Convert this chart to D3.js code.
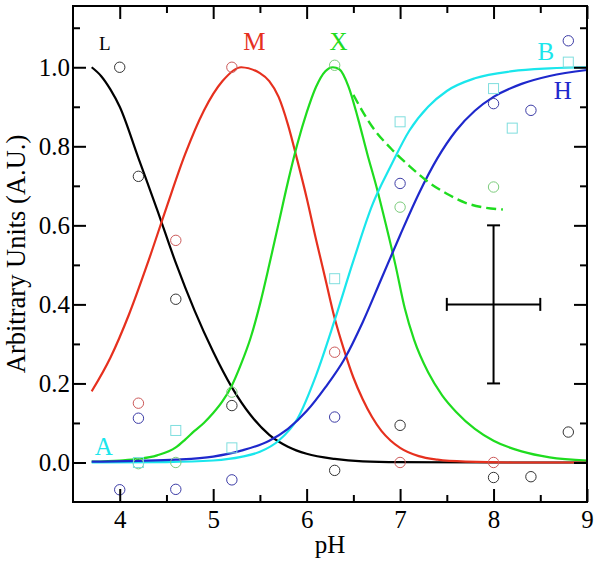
<!DOCTYPE html>
<html>
<head>
<meta charset="utf-8">
<script src="https://cdn.jsdelivr.net/npm/d3@7"></script>
<style>
  body { margin: 0; background: #fff; }
  text { font-family: "Liberation Serif", "Times New Roman", serif; }
</style>
</head>
<body>
<div id="d3-container"></div>
<script>
/**
 * CONSTANTS AND GLOBALS
 * */
const width = 601,
  height = 562,
  margin = { top: 6, bottom: 60, left: 73, right: 14 };

const colors = {
  L: "#000000",
  M: "#e6301e",
  X: "#1fdc1f",
  B: "#1ae6ec",
  H: "#1e28cc"
};

/**
 * DATA
 * curves are [pH, value]
 * */
const curveL = [
  [3.7, 1.0], [3.8, 0.978], [3.9, 0.944], [4.0, 0.9], [4.2, 0.77], [4.4, 0.64],
  [4.6, 0.505], [4.8, 0.385], [5.0, 0.28], [5.2, 0.19], [5.4, 0.12], [5.6, 0.07],
  [5.8, 0.04], [6.0, 0.022], [6.3, 0.009], [6.6, 0.003], [7.0, 0.001], [8.0, 0], [9.0, 0]
];
const curveM = [
  [3.7, 0.18], [3.9, 0.265], [4.1, 0.375], [4.3, 0.505], [4.5, 0.645], [4.7, 0.78],
  [4.9, 0.89], [5.1, 0.965], [5.3, 1.0], [5.5, 0.985], [5.6, 0.965], [5.7, 0.925],
  [5.8, 0.855], [5.9, 0.765], [6.0, 0.67], [6.1, 0.565], [6.2, 0.465], [6.3, 0.365],
  [6.4, 0.285], [6.5, 0.215], [6.6, 0.16], [6.7, 0.115], [6.8, 0.08], [6.9, 0.055],
  [7.0, 0.037], [7.2, 0.016], [7.4, 0.007], [7.7, 0.002], [8.2, 0], [9.0, 0]
];
const curveX = [
  [3.7, 0.002], [4.0, 0.005], [4.2, 0.009], [4.4, 0.018], [4.6, 0.038], [4.7, 0.058],
  [4.8, 0.08], [4.9, 0.1], [5.0, 0.125], [5.1, 0.155], [5.2, 0.195], [5.3, 0.25],
  [5.4, 0.315], [5.5, 0.4], [5.6, 0.5], [5.7, 0.605], [5.8, 0.71], [5.9, 0.805],
  [6.0, 0.885], [6.1, 0.95], [6.2, 0.99], [6.28, 1.0], [6.35, 0.995], [6.45, 0.95],
  [6.55, 0.87], [6.65, 0.78], [6.75, 0.695], [6.85, 0.6], [6.95, 0.5], [7.05, 0.39],
  [7.15, 0.31], [7.3, 0.228], [7.45, 0.17], [7.6, 0.128], [7.8, 0.085], [8.0, 0.055],
  [8.3, 0.028], [8.6, 0.013], [9.0, 0.005]
];
const curveXdash = [
  [6.5, 0.93], [6.7, 0.85], [6.9, 0.795], [7.1, 0.75], [7.3, 0.71], [7.5, 0.68],
  [7.7, 0.657], [7.9, 0.645], [8.1, 0.64]
];
const curveB = [
  [3.7, 0], [4.5, 0.001], [5.0, 0.005], [5.3, 0.014], [5.5, 0.027], [5.7, 0.055],
  [5.9, 0.11], [6.1, 0.22], [6.3, 0.36], [6.5, 0.51], [6.7, 0.65], [6.9, 0.75],
  [7.1, 0.84], [7.3, 0.9], [7.5, 0.94], [7.8, 0.972], [8.2, 0.99], [8.6, 0.997], [9.0, 1.0]
];
const curveH = [
  [3.7, 0.002], [4.2, 0.004], [4.6, 0.007], [5.0, 0.015], [5.3, 0.03], [5.6, 0.055],
  [5.8, 0.085], [6.0, 0.13], [6.2, 0.19], [6.4, 0.26], [6.6, 0.355], [6.8, 0.465],
  [7.0, 0.575], [7.2, 0.68], [7.4, 0.77], [7.6, 0.84], [7.8, 0.89], [8.0, 0.925],
  [8.3, 0.958], [8.6, 0.978], [9.0, 0.993]
];

// measured points
const pointsL = [[4.0, 1.0], [4.2, 0.724], [4.6, 0.413], [5.2, 0.144], [6.3, -0.02], [7.0, 0.094], [8.0, -0.038], [8.4, -0.036], [8.8, 0.077]];
const pointsM = [[4.2, 0.15], [4.6, 0.562], [5.2, 1.0], [6.3, 0.279], [7.0, 0.0], [8.0, 0.0]];
const pointsH = [[4.0, -0.069], [4.2, 0.112], [4.6, -0.068], [5.2, -0.044], [6.3, 0.115], [7.0, 0.706], [8.0, 0.908], [8.4, 0.891], [8.8, 1.067]];
const pointsX = [[4.2, -0.003], [4.6, 0.0], [5.2, 0.178], [6.3, 1.005], [7.0, 0.646], [8.0, 0.697]];
const pointsB = [[4.2, 0.0], [4.6, 0.081], [5.2, 0.037], [6.3, 0.465], [7.0, 0.862], [8.0, 0.946], [8.2, 0.846], [8.8, 1.013]];

// error cross: centre and half widths
const errCross = { ph: 8.0, v: 0.4, dph: 0.5, dv: 0.2 };

// curve labels in data units
const labels = [
  { text: "L", ph: 3.84, v: 1.043, color: colors.L, size: 19 },
  { text: "M", ph: 5.44, v: 1.043, color: colors.M, size: 25 },
  { text: "X", ph: 6.34, v: 1.043, color: colors.X, size: 25 },
  { text: "B", ph: 8.56, v: 1.018, color: colors.B, size: 25 },
  { text: "H", ph: 8.74, v: 0.919, color: colors.H, size: 25 },
  { text: "A", ph: 3.83, v: 0.02, color: colors.B, size: 25 }
];

const xMajor = [4, 5, 6, 7, 8, 9];
const xMinor = [4.5, 5.5, 6.5, 7.5, 8.5];
const yMajor = [0, 0.2, 0.4, 0.6, 0.8, 1.0];
const yMinor = [0.1, 0.3, 0.5, 0.7, 0.9, 1.1];

/**
 * DRAW
 * */
const svg = d3.select("#d3-container")
  .append("svg")
  .attr("width", width)
  .attr("height", height);

const x = d3.scaleLinear().domain([3.5, 9]).range([margin.left, width - margin.right]);
const y = d3.scaleLinear().domain([-0.1, 1.155]).range([height - margin.bottom, margin.top]);

const line = d3.line()
  .x(d => x(d[0]))
  .y(d => y(d[1]))
  .curve(d3.curveMonotoneX);

// curves
const curves = [
  { data: curveL, color: colors.L },
  { data: curveM, color: colors.M },
  { data: curveX, color: colors.X },
  { data: curveB, color: colors.B },
  { data: curveH, color: colors.H }
];
svg.append("g")
  .selectAll("path")
  .data(curves)
  .join("path")
  .attr("d", d => line(d.data))
  .attr("fill", "none")
  .attr("stroke", d => d.color)
  .attr("stroke-width", 2.2);

svg.append("path")
  .attr("d", line(curveXdash))
  .attr("fill", "none")
  .attr("stroke", colors.X)
  .attr("stroke-width", 2.4)
  .attr("stroke-dasharray", "10,5");

// circles
const circleSets = [
  { data: pointsL, color: "#333333" },
  { data: pointsM, color: "#cc5a5a" },
  { data: pointsH, color: "#3c3ca6" },
  { data: pointsX, color: "#7ccc7c" }
];
circleSets.forEach(set => {
  svg.append("g")
    .selectAll("circle")
    .data(set.data)
    .join("circle")
    .attr("cx", d => x(d[0]))
    .attr("cy", d => y(d[1]))
    .attr("r", 5.2)
    .attr("fill", "none")
    .attr("stroke", set.color)
    .attr("stroke-width", 1);
});

// squares
svg.append("g")
  .selectAll("rect")
  .data(pointsB)
  .join("rect")
  .attr("x", d => x(d[0]) - 5)
  .attr("y", d => y(d[1]) - 5)
  .attr("width", 10)
  .attr("height", 10)
  .attr("fill", "none")
  .attr("stroke", "#7fdede")
  .attr("stroke-width", 1);

// error cross
const ec = svg.append("g").attr("stroke", "#000").attr("stroke-width", 2);
const cx = x(errCross.ph), cy = y(errCross.v);
const xl = x(errCross.ph - errCross.dph), xr = x(errCross.ph + errCross.dph);
const yt = y(errCross.v + errCross.dv), yb = y(errCross.v - errCross.dv);
ec.append("line").attr("x1", xl).attr("x2", xr).attr("y1", cy).attr("y2", cy);
ec.append("line").attr("x1", cx).attr("x2", cx).attr("y1", yt).attr("y2", yb);
ec.append("line").attr("x1", xl).attr("x2", xl).attr("y1", cy - 6.5).attr("y2", cy + 6.5);
ec.append("line").attr("x1", xr).attr("x2", xr).attr("y1", cy - 6.5).attr("y2", cy + 6.5);
ec.append("line").attr("x1", cx - 6.5).attr("x2", cx + 6.5).attr("y1", yt).attr("y2", yt);
ec.append("line").attr("x1", cx - 6.5).attr("x2", cx + 6.5).attr("y1", yb).attr("y2", yb);

// labels
svg.append("g")
  .selectAll("text")
  .data(labels)
  .join("text")
  .attr("x", d => x(d.ph))
  .attr("y", d => y(d.v))
  .attr("text-anchor", "middle")
  .attr("fill", d => d.color)
  .attr("font-size", d => d.size)
  .text(d => d.text);

// axes (ticks pointing inward)
const x0 = margin.left, x1 = width - margin.right;
const y0 = height - margin.bottom, y1 = margin.top;

function styleAxis(g) {
  g.select(".domain").remove();
  g.selectAll(".tick line").attr("stroke", "#000").attr("stroke-width", 2);
  g.selectAll(".tick text")
    .attr("fill", "#000")
    .attr("font-size", 25);
}

svg.append("g").attr("transform", `translate(0,${y0})`)
  .call(d3.axisBottom(x).tickValues(xMajor).tickSize(-13).tickPadding(8).tickFormat(d3.format("d")))
  .call(styleAxis);
svg.append("g").attr("transform", `translate(0,${y0})`)
  .call(d3.axisBottom(x).tickValues(xMinor).tickSize(-7).tickFormat(""))
  .call(styleAxis);
svg.append("g").attr("transform", `translate(0,${y1})`)
  .call(d3.axisTop(x).tickValues(xMajor).tickSize(-13).tickFormat(""))
  .call(styleAxis);
svg.append("g").attr("transform", `translate(0,${y1})`)
  .call(d3.axisTop(x).tickValues(xMinor).tickSize(-7).tickFormat(""))
  .call(styleAxis);

svg.append("g").attr("transform", `translate(${x0},0)`)
  .call(d3.axisLeft(y).tickValues(yMajor).tickSize(-13).tickPadding(3).tickFormat(d3.format(".1f")))
  .call(styleAxis);
svg.append("g").attr("transform", `translate(${x0},0)`)
  .call(d3.axisLeft(y).tickValues(yMinor).tickSize(-7).tickFormat(""))
  .call(styleAxis);
svg.append("g").attr("transform", `translate(${x1},0)`)
  .call(d3.axisRight(y).tickValues(yMajor).tickSize(-13).tickFormat(""))
  .call(styleAxis);
svg.append("g").attr("transform", `translate(${x1},0)`)
  .call(d3.axisRight(y).tickValues(yMinor).tickSize(-7).tickFormat(""))
  .call(styleAxis);

// frame
svg.append("rect")
  .attr("x", x0).attr("y", y1)
  .attr("width", x1 - x0).attr("height", y0 - y1)
  .attr("fill", "none")
  .attr("stroke", "#000")
  .attr("stroke-width", 2);

// axis titles
svg.append("text")
  .attr("x", (x0 + x1) / 2)
  .attr("y", 553)
  .attr("text-anchor", "middle")
  .attr("font-size", 25)
  .text("pH");

svg.append("text")
  .attr("transform", `translate(25,${(y0 + y1) / 2}) rotate(-90)`)
  .attr("text-anchor", "middle")
  .attr("font-size", 26.5)
  .text("Arbitrary Units (A.U.)");
</script>
</body>
</html>
